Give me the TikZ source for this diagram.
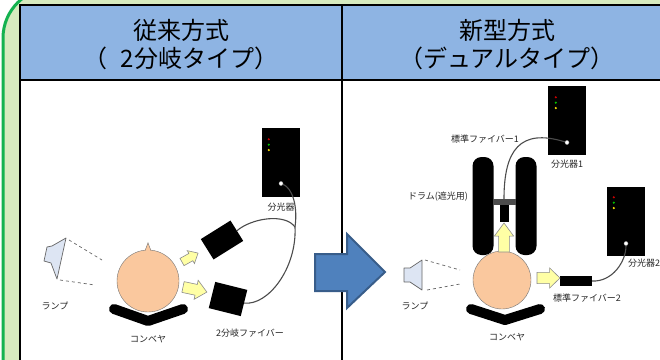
\documentclass[tikz,border=0pt]{standalone}
\usepackage{fontspec}
\setmainfont{Noto Sans CJK JP}
\usetikzlibrary{positioning}

\definecolor{bgGreen}{RGB}{215,234,191}
\definecolor{frameGreen}{RGB}{20,178,80}
\definecolor{headBlue}{RGB}{142,180,227}
\definecolor{peach}{RGB}{250,200,158}
\definecolor{lampBlue}{RGB}{221,229,243}
\definecolor{shiftBlue}{RGB}{79,129,189}
\definecolor{shiftEdge}{RGB}{56,93,138}
\definecolor{paleYellow}{RGB}{255,255,165}

\begin{document}
\begin{tikzpicture}[x=1pt, y=-1pt,
    hdr/.style={font=\fontsize{24}{28}\selectfont, align=center, inner sep=0},
    lbl/.style={font=\fontsize{9}{10}\selectfont, text=black!85, inner sep=0},
    spectro/.style={fill=black, inner sep=0, minimum width=38pt, minimum height=69pt},
    led/.style={circle, fill=#1, inner sep=0, minimum size=2.4pt},
    port/.style={circle, draw=black!35, fill=white, inner sep=0, minimum size=4pt},
    probe/.style={fill=black, inner sep=0},
    sample/.style={circle, draw=black!55, fill=peach, inner sep=0, minimum size=#1},
    drum/.style={fill=black, rounded corners=9pt, inner sep=0, minimum width=21pt, minimum height=98pt},
    fiber/.style={draw=black!70, line width=1.1pt},
    ray/.style={draw=black!60, dashed, line width=0.7pt},
    lamp/.style={draw=black!60, fill=lampBlue, line width=0.7pt, line join=round},
    conveyor/.style={line width=10pt, line cap=round, line join=round},
    yarrow/.style={draw=black!45, fill=paleYellow, line width=0.6pt},
    yarr/.pic={\path[yarrow] (0,-4.5) -- (11,-4.5) -- (11,-8) -- (20,0)
                  -- (11,8) -- (11,4.5) -- (0,4.5) -- cycle;}]
  \useasboundingbox (0,0) rectangle (660,359);
  \clip (0,0) rectangle (660,359);
  \fill[white] (0,0) rectangle (660,359);
  \draw[frameGreen, line width=3pt, fill=bgGreen, rounded corners=50pt] (3,-12) rectangle (720,420);

  % table: header row and two columns
  \fill[headBlue] (20,5) rectangle (672,80);
  \fill[white] (20,80) rectangle (672,400);
  \draw[line width=1.6pt] (20,5) rectangle (672,400);
  \draw[line width=2pt] (20,80) -- (672,80);
  \draw[line width=1.6pt] (342,5) -- (342,400);
  \node[hdr] (hdrOld) at (181,45) {従来方式\\（\hspace{0.55em}2分岐タイプ）};
  \node[hdr] (hdrNew) at (507,45) {新型方式\\（デュアルタイプ）};

  % ---- conventional: one spectrometer, split fiber
  \node[spectro] (specL) at (281,162) {};
  \node[led=red!80!black, below right=11pt and 6pt of specL.north west] (ledL1) {};
  \node[led=green!75!black, below=2.6pt of ledL1] (ledL2) {};
  \node[led=yellow!85!orange, below=2.6pt of ledL2] (ledL3) {};
  \node[port, above=11pt of specL.south] (portL) {};
  \node[lbl, below=6pt of specL] {分光器};

  \node[probe, minimum width=35pt, minimum height=24pt, rotate=32] (headA) at (222,240) {};
  \node[probe, minimum width=33pt, minimum height=27pt, rotate=-14] (headB) at (228,299) {};
  \coordinate (split) at (295,227);
  \draw[fiber] (portL) .. controls (292,188) and (298,205) .. (split);
  \draw[fiber] (split) .. controls (285,213) and (252,218) .. (headA.east);
  \draw[fiber] (split) .. controls (297,268) and (268,306) .. (headB.east);
  \node[lbl] at (250,333) {2分岐ファイバー};

  \node[sample=62pt] (sampleL) at (148,281) {};
  \filldraw[fill=peach, draw=black!55] ([xshift=-3pt,yshift=-1pt]sampleL.north)
      -- ([yshift=7pt]sampleL.north) -- ([xshift=3pt,yshift=-1pt]sampleL.north);
  \draw[conveyor] (114,309) -- (148,321) -- (183,309);
  \node[lbl] at (148,339) {コンベヤ};
  \pic[rotate=29, scale=0.92] at (182,262) {yarr};
  \pic[rotate=-12, scale=1.22] at (183,287) {yarr};

  \path[lamp] (44,261) -- (47,247) -- (52,246) -- (66,238) -- (57,279) -- (51,263) -- cycle;
  \draw[ray] (69,240) -- (102,260);
  \draw[ray] (60,280) -- (95,285);
  \node[lbl] at (55,306) {ランプ};

  % change-over arrow
  \draw[shiftEdge, fill=shiftBlue, line width=2pt, line join=miter]
    (315,254) -- (347,254) -- (347,234) -- (385,272) -- (347,308) -- (347,291) -- (315,291) -- cycle;

  % ---- new: dual spectrometers
  \node[spectro] (specA) at (567,120) {};
  \node[led=red!80!black, below right=11pt and 7pt of specA.north west] (ledA1) {};
  \node[led=green!75!black, below=2.6pt of ledA1] (ledA2) {};
  \node[led=yellow!85!orange, below=2.6pt of ledA2] (ledA3) {};
  \node[port, above=10pt of specA.south] (portA) {};
  \node[lbl, below=5pt of specA] {分光器1};

  \node[spectro] (specB) at (626,221) {};
  \node[led=red!80!black, below right=10pt and 6pt of specB.north west] (ledB1) {};
  \node[led=green!75!black, below=2.6pt of ledB1] (ledB2) {};
  \node[led=yellow!85!orange, below=2.6pt of ledB2] (ledB3) {};
  \node[port, above=10pt of specB.south] (portB) {};
  \node[lbl, anchor=west] at (628,263) {分光器2};

  % light-shield drum around the upper probe
  \node[drum] (drumL) at (483,206) {};
  \node[drum] (drumR) at (526,206) {};
  \node[probe, fill=black!70, minimum width=23pt, minimum height=6pt] (shade) at (504,202) {};
  \node[probe, minimum width=9pt, minimum height=17pt, below=0pt of shade] (headC) {};
  \node[lbl] at (438,197) {ドラム(遮光用)};
  \draw[fiber] (portA) .. controls (520,128) and (504,150) .. (shade.north);
  \node[lbl] at (485,139) {標準ファイバー1};

  \node[probe, minimum width=32pt, minimum height=10pt] (headD) at (576,281) {};
  \draw[fiber] (headD.east) .. controls (612,282) and (626,262) .. (portB);
  \node[lbl] at (587,298) {標準ファイバー2};

  \node[sample=58pt] (sampleR) at (502,280) {};
  \filldraw[fill=peach, draw=black!55] ([xshift=-3pt,yshift=-1pt]sampleR.north)
      -- ([yshift=6pt]sampleR.north) -- ([xshift=3pt,yshift=-1pt]sampleR.north);
  \draw[conveyor] (471,309) -- (505,320) -- (540,309);
  \node[lbl] at (507,337) {コンベヤ};
  \pic[rotate=90, xscale=1.45, yscale=1.2] at (504,252) {yarr};
  \pic[xscale=1.15, yscale=1.25] at (537,278) {yarr};

  \path[lamp] (404,268) -- (410,268) -- (422,260) -- (422,290) -- (410,282) -- (404,282) -- cycle;
  \draw[ray] (425,260) -- (460,270);
  \draw[ray] (427,290) -- (460,284);
  \node[lbl] at (415,306) {ランプ};
\end{tikzpicture}
\end{document}
